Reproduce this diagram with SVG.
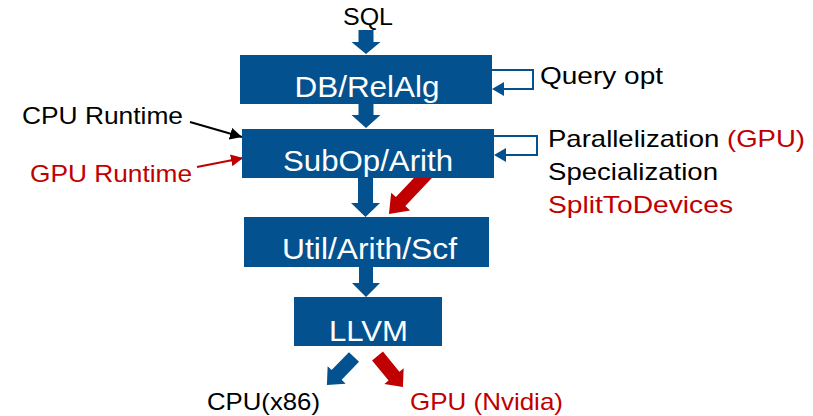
<svg xmlns="http://www.w3.org/2000/svg" width="813" height="416" viewBox="0 0 813 416">
<style>
  text { font-family: "Liberation Sans", Arial, sans-serif; }
  .lbl { font-size: 24px; fill: #000; }
  .red { fill: #C00000; }
  .box { fill: #03528F; }
  .boxt { font-size: 30px; fill: #fff; text-anchor: middle; }
  .blk { fill: #03528F; }
  .rblk { fill: #C00000; }
  .loop { fill: none; stroke: #03528F; stroke-width: 2; }
</style>
<defs>
  <marker id="hb" markerUnits="userSpaceOnUse" markerWidth="14" markerHeight="12" refX="12" refY="6" orient="auto">
    <path d="M0,0 L12,6 L0,12 Z" fill="#000"/>
  </marker>
  <marker id="hr" markerUnits="userSpaceOnUse" markerWidth="14" markerHeight="12" refX="12" refY="6" orient="auto">
    <path d="M0,0 L12,6 L0,12 Z" fill="#C00000"/>
  </marker>
</defs>
<rect width="813" height="416" fill="#fff"/>

<g id="connectors">
  <polygon class="blk" points="358.5,30 373.5,30 373.5,42 380.5,42 366,54 351.5,42 358.5,42"/>
  <polygon class="blk" points="358.5,103 373.5,103 373.5,115 380.5,115 366,128 351.5,115 358.5,115"/>
  <polygon class="blk" points="358,177 373,177 373,203 380,203 365.5,217 351,203 358,203"/>
  <polygon class="blk" points="359,266 373,266 373,283 380,283 366,297 352,283 359,283"/>
  <path class="rblk" transform="translate(428.8,171.8) rotate(133.4)" d="M0,-6.5 L41,-6.5 L41,-13 L58,0 L41,13 L41,6.5 L0,6.5 Z"/>
  <path class="blk" transform="translate(354,357) rotate(134)" d="M0,-7 L25,-7 L25,-12.5 L39,0 L25,12.5 L25,7 L0,7 Z"/>
  <path class="rblk" transform="translate(377.5,356) rotate(50.6)" d="M0,-7 L26,-7 L26,-12.5 L40,0 L26,12.5 L26,7 L0,7 Z"/>
  <path class="loop" d="M492,70 H533 V89 H503"/>
  <polygon class="blk" points="492,89 504,82 504,96"/>
  <path class="loop" d="M494,136 H537 V155 H505"/>
  <polygon class="blk" points="494,155 506,148 506,162"/>
  <line x1="190" y1="122" x2="242" y2="137" stroke="#000" stroke-width="2" marker-end="url(#hb)"/>
  <line x1="197" y1="167" x2="243" y2="158" stroke="#C00000" stroke-width="2" marker-end="url(#hr)"/>
</g>

<g id="sql"><text class="lbl" x="343" y="25" textLength="50" lengthAdjust="spacingAndGlyphs">SQL</text></g>

<g id="dbrelalg">
  <rect class="box" x="240" y="55" width="252" height="49"/>
  <text class="boxt" x="367" y="97" textLength="145" lengthAdjust="spacingAndGlyphs">DB/RelAlg</text>
</g>
<g id="subop">
  <rect class="box" x="242" y="129" width="252" height="49"/>
  <text class="boxt" x="368" y="171" textLength="170" lengthAdjust="spacingAndGlyphs">SubOp/Arith</text>
</g>
<g id="util">
  <rect class="box" x="244" y="217" width="245" height="50"/>
  <text class="boxt" x="369.5" y="259" textLength="175" lengthAdjust="spacingAndGlyphs">Util/Arith/Scf</text>
</g>
<g id="llvm">
  <rect class="box" x="294" y="297" width="148" height="49"/>
  <text class="boxt" x="368.5" y="341" textLength="79" lengthAdjust="spacingAndGlyphs">LLVM</text>
</g>

<g id="queryopt"><text class="lbl" x="540" y="84" textLength="123" lengthAdjust="spacingAndGlyphs">Query opt</text></g>
<g id="passes">
  <text class="lbl" x="548" y="147" textLength="257" lengthAdjust="spacingAndGlyphs">Parallelization <tspan class="red">(GPU)</tspan></text>
  <text class="lbl" x="548" y="180" textLength="170" lengthAdjust="spacingAndGlyphs">Specialization</text>
  <text class="lbl red" x="548" y="213" textLength="185" lengthAdjust="spacingAndGlyphs">SplitToDevices</text>
</g>
<g id="cpuruntime"><text class="lbl" x="22" y="124" textLength="161" lengthAdjust="spacingAndGlyphs">CPU Runtime</text></g>
<g id="gpuruntime"><text class="lbl red" x="30" y="182" textLength="162" lengthAdjust="spacingAndGlyphs">GPU Runtime</text></g>
<g id="cpux86"><text class="lbl" x="207" y="410" textLength="113" lengthAdjust="spacingAndGlyphs">CPU(x86)</text></g>
<g id="gpunvidia"><text class="lbl red" x="410" y="410" textLength="153" lengthAdjust="spacingAndGlyphs">GPU (Nvidia)</text></g>
</svg>
